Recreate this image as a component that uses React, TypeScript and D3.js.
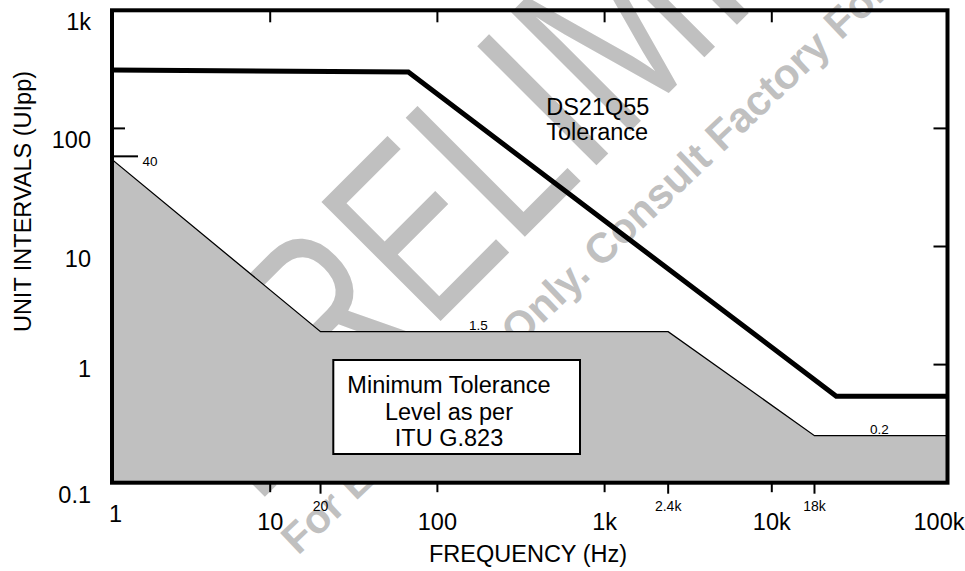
import { useEffect, useRef } from "react";
import * as d3 from "d3";

// axis ticks
const xTickValues = [1, 10, 100, 1000, 10000, 100000];
const xTickLabels = ["1", "10", "100", "1k", "10k", "100k"];
const xMarkValues = [20, 2400, 18000];
const xMarkLabels = ["20", "2.4k", "18k"];
const yTickValues = [0.1, 1, 10, 100, 1000];
const yTickLabels = ["0.1", "1", "10", "100", "1k"];

// DS21Q55 tolerance (UIpp vs Hz)
const toleranceFreq = [1, 67, 24300, 120000];
const toleranceUI = [312, 300, 0.54, 0.54];

// ITU G.823 minimum tolerance mask
const maskFreq = [1, 20, 2400, 18000, 120000];
const maskUI = [63, 1.9, 1.9, 0.25, 0.25];

// corner notes on the mask
const noteLabels = ["40", "1.5", "0.2"];
const noteFreq = [1, 176, 44000];
const noteUI = [58, 1.9, 0.25];

const boxLines = ["Minimum Tolerance", "Level as per", "ITU G.823"];
const curveLines = ["DS21Q55", "Tolerance"];

const width = 965;
const height = 571;
const frame = { left: 112, right: 947.5, top: 10.3, bottom: 482.7 };
const font = "'Liberation Sans', Arial, Helvetica, sans-serif";
const grey = "#c0c0c0";

function App() {
  const svgRef = useRef<SVGSVGElement | null>(null);

  useEffect(() => {
    const svg = d3.select(svgRef.current);
    svg.selectAll("*").remove();

    const xScale = d3.scaleLog().domain([1, 100000]).range([103, 939]);
    const yScale = d3
      .scaleLog()
      .domain([0.1, 1000])
      .range([frame.bottom, frame.top]);

    svg
      .append("defs")
      .append("clipPath")
      .attr("id", "plot-clip")
      .append("rect")
      .attr("x", frame.left)
      .attr("y", frame.top)
      .attr("width", frame.right - frame.left)
      .attr("height", frame.bottom - frame.top);

    // watermark
    const wm = svg.append("g").attr("fill", grey).attr("font-family", font);
    wm.append("text")
      .attr("transform", "translate(254.5,507.3) rotate(-45) scale(0.73,1)")
      .attr("font-size", 245)
      .text("PRELIMINARY");
    wm.append("text")
      .attr("transform", "translate(298,556) rotate(-43.5)")
      .attr("font-size", 42)
      .attr("font-weight", "bold")
      .text("For Evaluation Only. Consult Factory For");

    const plot = svg.append("g").attr("clip-path", "url(#plot-clip)");

    const maskArea = d3
      .area<number>()
      .x((d) => xScale(d))
      .y0(yScale(0.1))
      .y1((d, i) => yScale(maskUI[i]));
    plot
      .append("path")
      .attr("d", maskArea(maskFreq) as string)
      .attr("fill", grey);

    const maskLine = d3
      .line<number>()
      .x((d) => xScale(d))
      .y((d, i) => yScale(maskUI[i]));
    plot
      .append("path")
      .attr("d", maskLine(maskFreq) as string)
      .attr("fill", "none")
      .attr("stroke", "black")
      .attr("stroke-width", 1.3);

    const tolLine = d3
      .line<number>()
      .x((d) => xScale(d))
      .y((d, i) => yScale(toleranceUI[i]));
    plot
      .append("path")
      .attr("d", tolLine(toleranceFreq) as string)
      .attr("fill", "none")
      .attr("stroke", "black")
      .attr("stroke-width", 5)
      .attr("stroke-linejoin", "miter");

    // frame
    svg
      .append("rect")
      .attr("x", frame.left)
      .attr("y", frame.top)
      .attr("width", frame.right - frame.left)
      .attr("height", frame.bottom - frame.top)
      .attr("fill", "none")
      .attr("stroke", "black")
      .attr("stroke-width", 4);

    const ticks = svg.append("g").attr("stroke", "black").attr("stroke-width", 2);
    const inner = xTickValues.slice(1, 5);
    inner.forEach((v) => {
      ticks
        .append("line")
        .attr("x1", xScale(v))
        .attr("x2", xScale(v))
        .attr("y1", frame.bottom)
        .attr("y2", frame.bottom + 9.5);
      ticks
        .append("line")
        .attr("x1", xScale(v))
        .attr("x2", xScale(v))
        .attr("y1", frame.top)
        .attr("y2", frame.top + 12);
    });
    xMarkValues.forEach((v) => {
      ticks
        .append("line")
        .attr("x1", xScale(v))
        .attr("x2", xScale(v))
        .attr("y1", frame.bottom)
        .attr("y2", frame.bottom + 11);
    });
    yTickValues.slice(1, 4).forEach((v) => {
      ticks
        .append("line")
        .attr("x1", frame.right - 14)
        .attr("x2", frame.right)
        .attr("y1", yScale(v))
        .attr("y2", yScale(v));
    });
    ticks
      .append("line")
      .attr("x1", frame.left)
      .attr("x2", frame.left + 13)
      .attr("y1", yScale(100))
      .attr("y2", yScale(100));
    ticks
      .append("line")
      .attr("x1", frame.left)
      .attr("x2", frame.left + 26)
      .attr("y1", yScale(noteUI[0]))
      .attr("y2", yScale(noteUI[0]));

    const labels = svg
      .append("g")
      .attr("font-family", font)
      .attr("fill", "black");

    xTickValues.forEach((v, i) => {
      // the "1" at the left corner sits a little higher in the original
      const atCorner = xScale(v) < frame.left;
      labels
        .append("text")
        .attr("x", atCorner ? frame.left + 3.5 : xScale(v))
        .attr("y", frame.bottom + (atCorner ? 39 : 47))
        .attr("text-anchor", "middle")
        .attr("font-size", 23.5)
        .text(xTickLabels[i]);
    });
    xMarkValues.forEach((v, i) => {
      labels
        .append("text")
        .attr("x", xScale(v))
        .attr("y", frame.bottom + 28.5)
        .attr("text-anchor", "middle")
        .attr("font-size", 14)
        .text(xMarkLabels[i]);
    });
    yTickValues.forEach((v, i) => {
      labels
        .append("text")
        .attr("x", 91)
        .attr("y", yScale(v) + (v === 1 ? 12 : 20))
        .attr("text-anchor", "end")
        .attr("font-size", 23.5)
        .text(yTickLabels[i]);
    });

    labels
      .append("text")
      .attr("x", 528)
      .attr("y", 562)
      .attr("text-anchor", "middle")
      .attr("font-size", 23.5)
      .text("FREQUENCY (Hz)");
    labels
      .append("text")
      .attr("transform", "translate(31,201.5) rotate(-90)")
      .attr("text-anchor", "middle")
      .attr("font-size", 23.5)
      .text("UNIT INTERVALS (UIpp)");

    // notes on the mask corners
    noteLabels.forEach((t, i) => {
      const first = i === 0;
      labels
        .append("text")
        .attr("x", first ? frame.left + 30.5 : xScale(noteFreq[i]))
        .attr("y", yScale(noteUI[i]) + (first ? 10 : -1.5))
        .attr("text-anchor", first ? "start" : "middle")
        .attr("font-size", 13.5)
        .text(t);
    });

    curveLines.forEach((t, i) => {
      labels
        .append("text")
        .attr("x", xScale(460) - 2)
        .attr("y", yScale(100) - 13.4 + i * 25)
        .attr("font-size", 23.5)
        .text(t);
    });

    const box = { x: 333.3, y: 360, w: 246.7, h: 94 };
    svg
      .append("rect")
      .attr("x", box.x)
      .attr("y", box.y)
      .attr("width", box.w)
      .attr("height", box.h)
      .attr("fill", "white")
      .attr("stroke", "black")
      .attr("stroke-width", 2);
    boxLines.forEach((t, i) => {
      svg
        .append("text")
        .attr("x", 449)
        .attr("y", box.y + 33 + i * 26.7)
        .attr("text-anchor", "middle")
        .attr("font-family", font)
        .attr("font-size", 23.5)
        .text(t);
    });
  }, []);

  return (
    <svg
      ref={svgRef}
      width={width}
      height={height}
      style={{ position: "absolute", left: 0, top: 0, background: "white" }}
    ></svg>
  );
}

export default App;
